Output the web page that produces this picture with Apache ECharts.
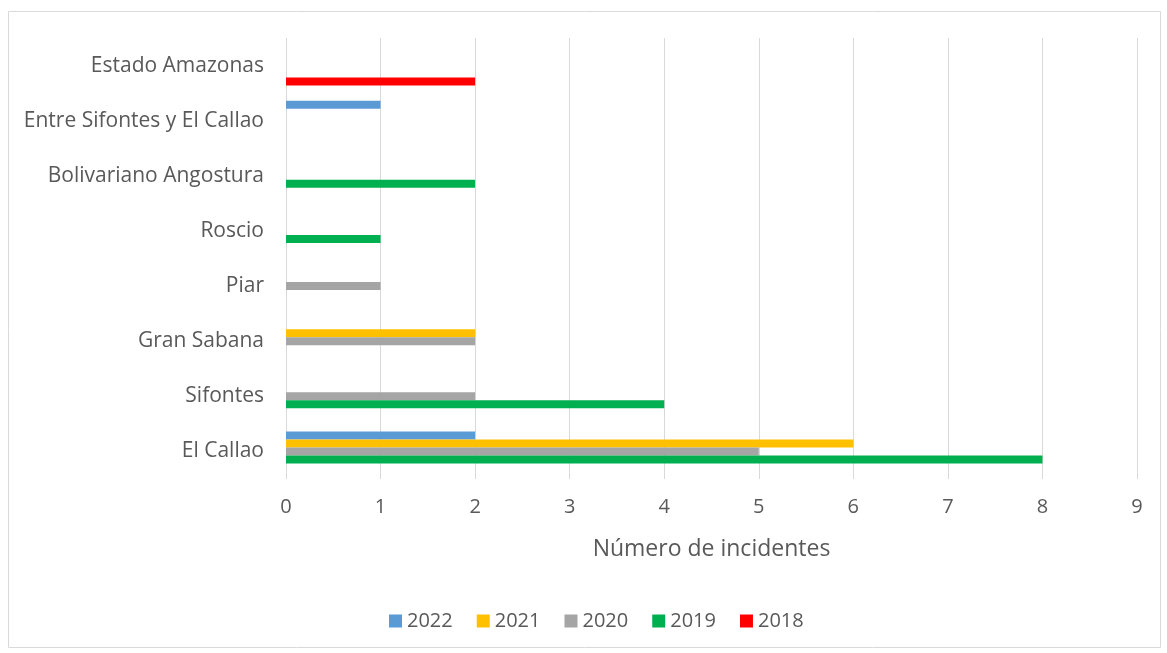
<!DOCTYPE html>
<html>
<head>
<meta charset="utf-8">
<script src="https://cdn.jsdelivr.net/npm/echarts@6/dist/echarts.min.js"></script>
<style>
  html, body { margin: 0; padding: 0; background: #fff; }
  #chart { width: 1167px; height: 653px; }
</style>
</head>
<body>
<div id="chart"></div>
<script>
// categories bottom -> top
const categories = ['El Callao', 'Sifontes', 'Gran Sabana', 'Piar', 'Roscio',
  'Bolivariano Angostura', 'Entre Sifontes y El Callao', 'Estado Amazonas']

const years = ['2022', '2021', '2020', '2019', '2018']
const values2022 = [2, null, null, null, null, null, 1, null]
const values2021 = [6, null, 2, null, null, null, null, null]
const values2020 = [5, 2, 2, 1, null, null, null, null]
const values2019 = [8, 4, null, null, 1, 2, null, null]
const values2018 = [null, null, null, null, null, null, null, 2]

const xTicks = { min: 0, max: 9, interval: 1 }
const Colors = ['#5B9BD5', '#FFC000', '#A5A5A5', '#00B050', '#FF0000']
const TextColor = '#595959'
const Font = 'Open Sans'

const seriesValues = [values2022, values2021, values2020, values2019, values2018]

const chart = echarts.init(document.getElementById('chart'))

chart.setOption({
  animation: false,
  textStyle: { fontFamily: Font },
  graphic: [{
    type: 'rect',
    left: 6,
    top: 9,
    shape: { width: 1152, height: 636 },
    style: { fill: 'none', stroke: '#d9d9d9', lineWidth: 1 },
    silent: true
  }],
  legend: {
    data: years,
    top: 606,
    left: 384,
    icon: 'rect',
    itemWidth: 13,
    itemHeight: 13,
    itemGap: 24,
    textStyle: { color: TextColor, fontSize: 20, fontFamily: Font }
  },
  grid: {
    top: 38,
    left: 286,
    right: 30,
    bottom: 174
  },
  xAxis: {
    type: 'value',
    min: xTicks.min,
    max: xTicks.max,
    interval: xTicks.interval,
    name: 'Número de incidentes',
    nameLocation: 'middle',
    nameGap: 59,
    nameTextStyle: { color: TextColor, fontSize: 23, fontFamily: Font },
    axisLine: { show: false },
    axisTick: { show: false },
    axisLabel: { color: TextColor, fontSize: 20, margin: 18, fontFamily: Font },
    splitLine: { show: true, lineStyle: { color: '#d9d9d9', width: 1 } }
  },
  yAxis: {
    type: 'category',
    data: categories,
    axisLine: { show: false },
    axisTick: { show: false },
    axisLabel: { color: TextColor, fontSize: 21, margin: 22, padding: [3, 0, 0, 0], fontFamily: Font }
  },
  series: years.map((y, i) => ({
    name: y,
    type: 'bar',
    data: seriesValues[i],
    barWidth: 8,
    barGap: '0%',
    itemStyle: { color: Colors[i] }
  }))
})
</script>
</body>
</html>
